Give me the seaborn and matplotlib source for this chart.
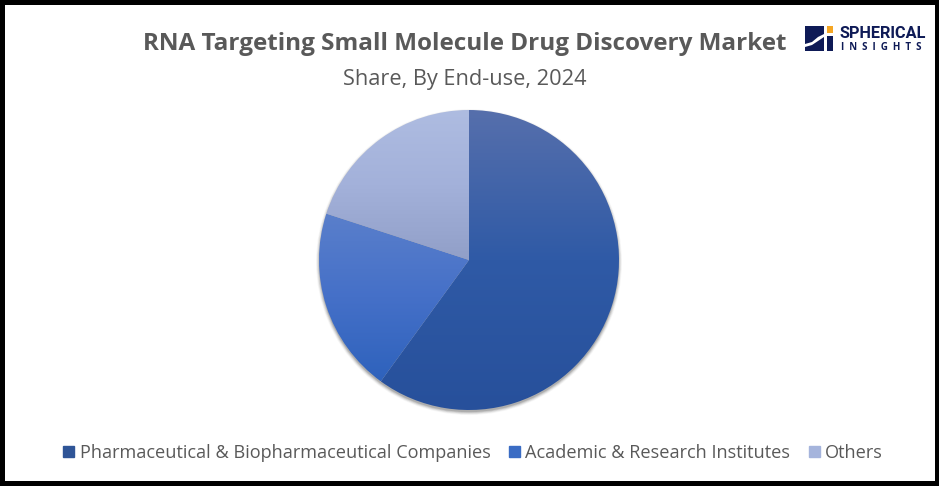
import numpy as np
import matplotlib.pyplot as plt
from matplotlib.patches import Circle, Rectangle, Polygon
from matplotlib.colors import LinearSegmentedColormap
import seaborn as sns

categories = ["Pharmaceutical & Biopharmaceutical Companies", "Academic & Research Institutes", "Others"]
shares = [60, 20, 20]

# top / bottom of the gradient in each slice
grad_top = ["#566FAC", "#5A7FCB", "#AEBCE1"]
grad_mid = ["#2F5AA6", "#4570C8", "#A3B1DA"]
grad_bottom = ["#27509B", "#2E62BC", "#919FC8"]
legend_colors = ["#2F5597", "#3A6CC4", "#A5B4DC"]

sns.set_theme(style="white")
plt.rcParams['font.family'] = ['Open Sans', 'DejaVu Sans']

W, H = 939, 486
fig = plt.figure(figsize=(W / 100, H / 100), dpi=100, facecolor="white")

# page overlay in pixel coordinates, for frame and logo
page = fig.add_axes([0, 0, 1, 1], zorder=3)
page.set_xlim(0, W)
page.set_ylim(H, 0)
page.axis("off")
page.patch.set_alpha(0)

# pie axes, centre (469, 260), radius 150 px
r_px = 150
half = 1.25 * r_px
ax = fig.add_axes([(469 - half) / W, 1 - (260 + half) / H, 2 * half / W, 2 * half / H], zorder=1)
wedges, _ = ax.pie(shares, startangle=90, counterclock=False, colors=legend_colors, radius=1,
                   wedgeprops={"edgecolor": "none", "linewidth": 0})

# soft shadow below the pie
for grow, alpha in zip([1.02, 1.015, 1.01, 1.005, 1.0], [0.03, 0.05, 0.07, 0.09, 0.12]):
    ax.add_patch(Circle((0, -0.014), grow, color="black", alpha=alpha, lw=0, zorder=0))

# fill each wedge with a vertical gradient
for w, c0, c1, c2 in zip(wedges, grad_top, grad_mid, grad_bottom):
    bb = w.get_path().transformed(w.get_patch_transform()).get_extents()
    cmap = LinearSegmentedColormap.from_list("g", [c0, c1, c2])
    im = ax.imshow(np.linspace(0, 1, 256).reshape(-1, 1), cmap=cmap, aspect="auto", origin="upper",
                   extent=(bb.x0, bb.x1, bb.y0, bb.y1), zorder=2)
    im.set_clip_path(w)
    w.set_facecolor("none")
    w.set_zorder(3)

ax.set_xlim(-1.25, 1.25)
ax.set_ylim(-1.25, 1.25)
ax.set_aspect("equal")
ax.axis("off")

# titles
page.text(465, 44, "RNA Targeting Small Molecule Drug Discovery Market", ha="center", va="center",
          fontsize=17.5, fontweight="bold", color="#595959")
page.text(465, 79, "Share, By End-use, 2024", ha="center", va="center", fontsize=15.7, color="#595959")

# legend
handles = [Rectangle((0, 0), 1, 1, color=c) for c in legend_colors]
fig.legend(handles, categories, loc="center", bbox_to_anchor=(473 / W, 1 - 453 / H), ncol=3, frameon=False,
           fontsize=13.1, labelcolor="#595959", handlelength=0.62, handleheight=0.62,
           handletextpad=0.3, columnspacing=1.0)

# logo
navy = "#0E1A56"
page.add_patch(Rectangle((805, 26), 19, 25, color=navy, lw=0))
page.add_patch(Polygon([(805, 44), (812, 42), (818, 37), (824, 34), (824, 37), (818, 41), (812, 45), (805, 47)],
                       color="white", lw=0))
page.add_patch(Rectangle((827, 26), 6, 7, color="#F5A623", lw=0))
page.add_patch(Rectangle((827, 36), 6, 15, color=navy, lw=0))
page.text(839, 34, "SPHERICAL", fontsize=11.7, fontweight="bold", color=navy, va="center", ha="left",
          family=['Roboto', 'DejaVu Sans'])
page.text(841, 48, "I  N  S  I  G  H  T  S", fontsize=7, fontweight="bold", color=navy, va="center", ha="left")

# black frame
page.add_patch(Rectangle((1.5, 2.5), W - 4, H - 6, fill=False, edgecolor="black", lw=3.6))

fig.savefig("out.png", dpi=100, facecolor="white")
